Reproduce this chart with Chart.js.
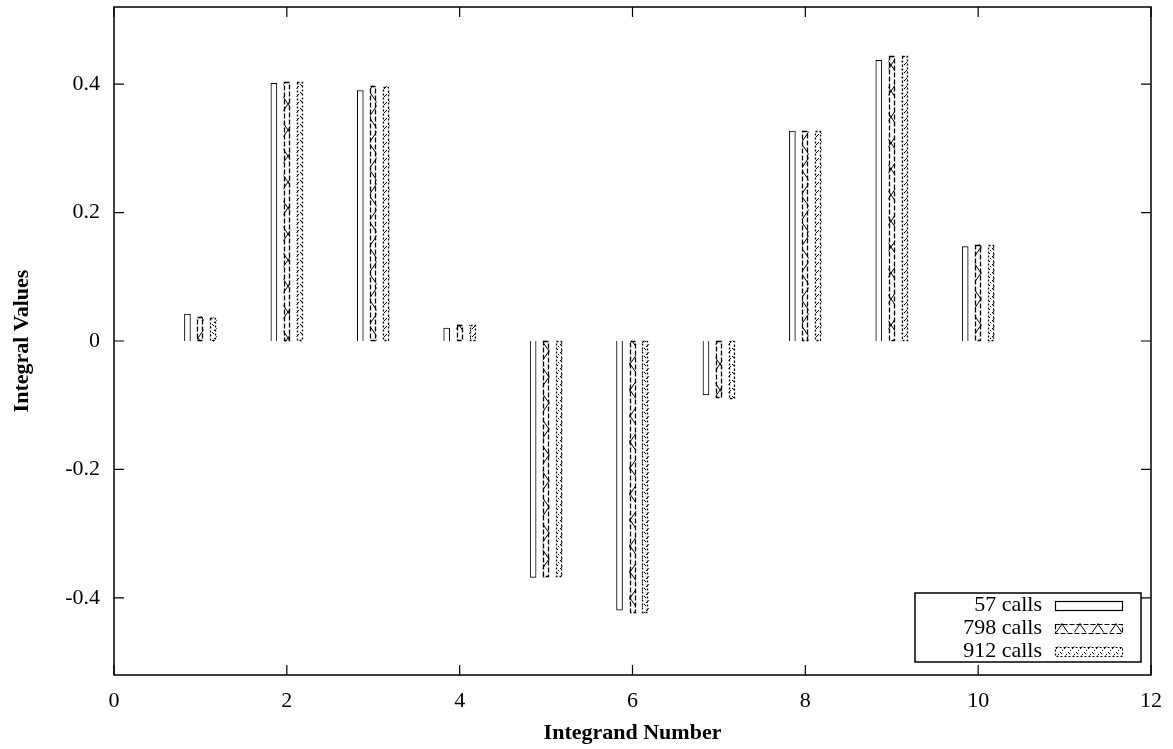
<!DOCTYPE html>
<html><head><meta charset="utf-8">
<script src="https://cdn.jsdelivr.net/npm/chart.js@4"></script>
<style>html,body{margin:0;padding:0;background:#fff;} #wrap{width:1173px;height:749px;position:relative;}</style>
</head><body><div id="wrap"><canvas id="c"></canvas></div>
<script>
const categories = [1,2,3,4,5,6,7,8,9,10];
const seriesNames = ['57 calls','798 calls','912 calls'];
const calls57  = [0.042,0.401,0.390,0.020,-0.368,-0.419,-0.084,0.327,0.437,0.147];
const calls798 = [0.038,0.403,0.397,0.025,-0.368,-0.423,-0.088,0.327,0.444,0.150];
const calls912 = [0.036,0.403,0.396,0.025,-0.368,-0.423,-0.090,0.327,0.443,0.149];
const xTicks = [0,2,4,6,8,10,12];
const yTicks = [-0.4,-0.2,0,0.2,0.4];
const groupOffsets = [-0.15,0,0.15];
const xTitle = 'Integrand Number';
const yTitle = 'Integral Values';

const FONT = '"Liberation Serif", "Times New Roman", serif';

function makePattern2(){
  const c = document.createElement('canvas'); c.width = 18; c.height = 26;
  const g = c.getContext('2d');
  g.fillStyle = '#fff'; g.fillRect(0,0,18,26);
  g.strokeStyle = '#000'; g.lineWidth = 1;
  g.beginPath(); g.moveTo(0,0); g.lineTo(18,26); g.moveTo(18,0); g.lineTo(0,26); g.stroke();
  return g.createPattern(c,'repeat');
}
function makePattern3(){
  const c = document.createElement('canvas'); c.width = 8; c.height = 8;
  const g = c.getContext('2d');
  g.fillStyle = '#fff'; g.fillRect(0,0,8,8);
  g.fillStyle = '#000';
  [[0,0],[4,4],[5,5],[6,2],[2,6],[1,7]].forEach(p=>g.fillRect(p[0],p[1],1,1));
  return g.createPattern(c,'repeat');
}
const pat2 = makePattern2();
const pat3 = makePattern3();

const seriesValues = [calls57, calls798, calls912];
const fills = ['#ffffff', pat2, pat3];
const dashes = [[], [5,2], [2,2]];

const datasets = seriesValues.map((vals, si) => ({
  label: seriesNames[si],
  data: categories.map((c, i) => ({x: c + groupOffsets[si], y: vals[i]})),
  backgroundColor: fills[si],
  borderColor: '#000',
  borderWidth: si === 0 ? 1 : 0,
  barThickness: 6,
  grouped: false,
  dashPattern: dashes[si]
}));

const dashBorders = {
  id: 'dashBorders',
  afterDatasetsDraw(chart){
    const ctx = chart.ctx;
    chart.data.datasets.forEach((ds, di) => {
      if (!ds.dashPattern.length) return;
      const meta = chart.getDatasetMeta(di);
      ctx.save();
      ctx.strokeStyle = '#000'; ctx.lineWidth = 1.3; ctx.setLineDash(ds.dashPattern);
      meta.data.forEach(el => {
        const p = el.getProps(['x','y','base','width'], true);
        const l = Math.round(p.x - p.width/2) + 0.5;
        const t = Math.round(Math.min(p.y, p.base)) + 0.5;
        const h = Math.round(Math.abs(p.y - p.base));
        const w = Math.round(p.width) - 1;
        ctx.strokeRect(l, t, w, h - 1);
      });
      ctx.restore();
    });
  }
};

const frameTicks = {
  id: 'frameTicks',
  afterDraw(chart){
    const ctx = chart.ctx, a = chart.chartArea;
    const xs = chart.scales.x, ys = chart.scales.y;
    ctx.save();
    ctx.strokeStyle = '#000'; ctx.lineWidth = 1.5;
    ctx.strokeRect(a.left, a.top, a.right - a.left, a.bottom - a.top);
    ctx.lineWidth = 1.2;
    ctx.beginPath();
    const L = 10;
    xTicks.forEach(v => {
      const px = xs.getPixelForValue(v);
      ctx.moveTo(px, a.bottom); ctx.lineTo(px, a.bottom - L);
      ctx.moveTo(px, a.top); ctx.lineTo(px, a.top + L);
    });
    yTicks.forEach(v => {
      const py = ys.getPixelForValue(v);
      ctx.moveTo(a.left, py); ctx.lineTo(a.left + L, py);
      ctx.moveTo(a.right, py); ctx.lineTo(a.right - L, py);
    });
    ctx.stroke();

    // legend
    const bw = 226, bh = 69;
    const bx = a.right - 10 - bw, by = a.bottom - 13 - bh;
    ctx.lineWidth = 1.5;
    ctx.strokeRect(bx, by, bw, bh);
    ctx.font = '22px ' + FONT;
    ctx.fillStyle = '#000';
    ctx.textAlign = 'right'; ctx.textBaseline = 'middle';
    chart.data.datasets.forEach((ds, i) => {
      const cy = by + 12 + i * 23;
      ctx.fillText(ds.label, bx + 127, cy);
      const sx = bx + 140, sw = 67, sh = 9;
      ctx.fillStyle = ds.backgroundColor;
      ctx.fillRect(sx, cy - sh/2, sw, sh);
      ctx.lineWidth = 1.2;
      ctx.setLineDash(ds.dashPattern);
      ctx.strokeRect(Math.round(sx)+0.5, Math.round(cy - sh/2)+0.5, sw, sh);
      ctx.setLineDash([]);
      ctx.fillStyle = '#000';
    });
    ctx.restore();
  }
};

Chart.defaults.color = '#000';
Chart.defaults.font.family = FONT;
Chart.defaults.font.size = 22;

new Chart(document.getElementById('c'), {
  type: 'bar',
  data: { datasets },
  options: {
    responsive: true, maintainAspectRatio: false, animation: false,
    layout: { padding: { left: 0, right: 22, top: 7, bottom: 0 } },
    plugins: { legend: { display: false }, tooltip: { enabled: false } },
    scales: {
      x: {
        type: 'linear', min: 0, max: 12, offset: false,
        grid: { display: false, drawTicks: false },
        border: { display: false },
        afterBuildTicks: s => { s.ticks = xTicks.map(v => ({value: v})); },
        afterFit: s => { s.height = 74; s.paddingLeft = 0; s.paddingRight = 0; },
        ticks: { padding: 13, maxRotation: 0, autoSkip: false, callback: v => String(v), font: { size: 22 } },
        title: { display: true, text: xTitle, font: { size: 22, weight: 'bold' }, padding: { top: 0, bottom: 2 } }
      },
      y: {
        type: 'linear', min: -0.52, max: 0.52,
        grid: { display: false, drawTicks: false },
        border: { display: false },
        afterBuildTicks: s => { s.ticks = yTicks.map(v => ({value: v})); },
        afterFit: s => { s.width = 114; s.paddingTop = 0; s.paddingBottom = 0; },
        ticks: { padding: 14, autoSkip: false, callback: v => String(v), font: { size: 22 } },
        title: { display: true, text: yTitle, font: { size: 22, weight: 'bold' }, padding: { top: 9, bottom: 0 } }
      }
    }
  },
  plugins: [dashBorders, frameTicks]
});
</script>
</body></html>
